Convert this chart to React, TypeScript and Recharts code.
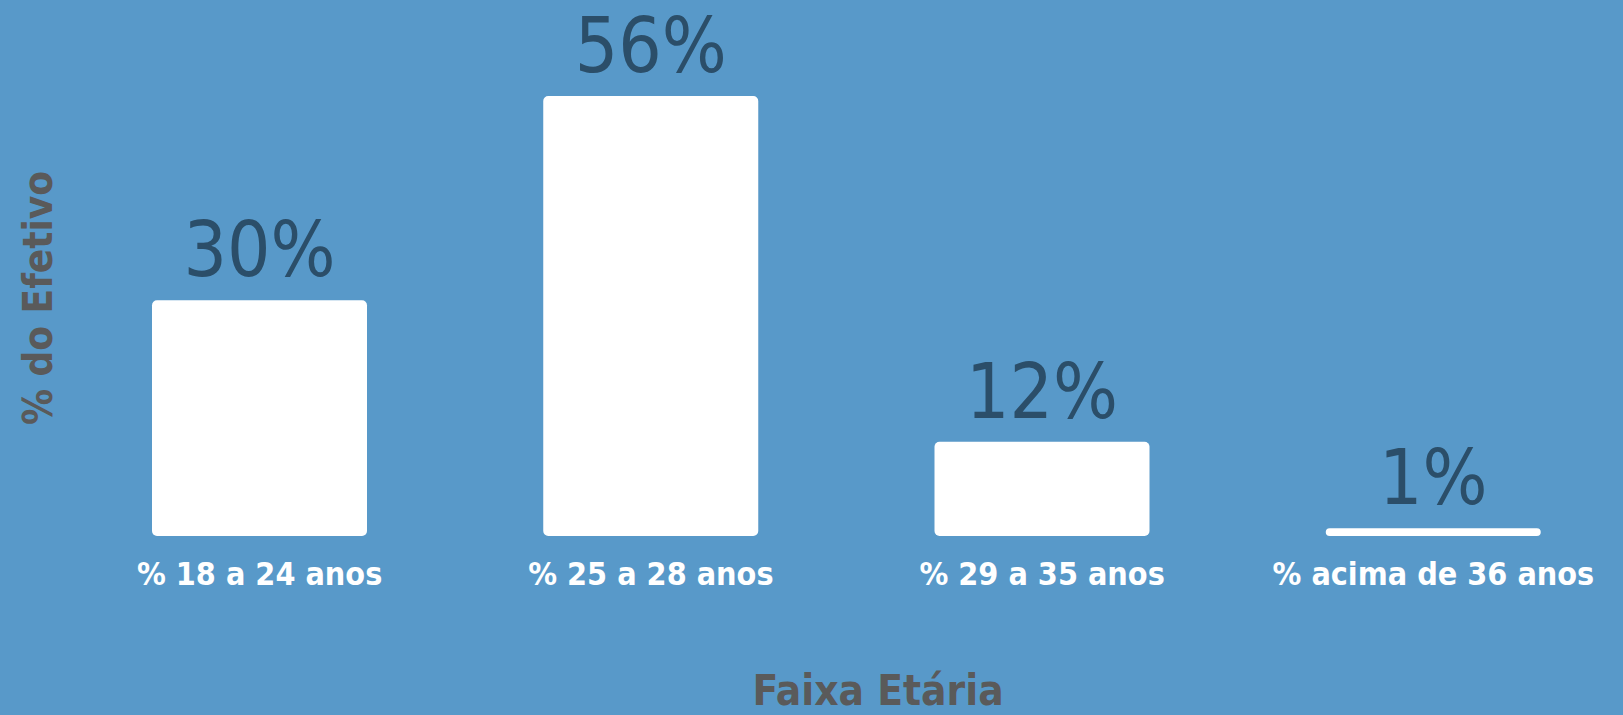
import React from "react";
import { Bar, BarChart, LabelList, XAxis, YAxis, Label } from "recharts";

const faixas = [
  "% 18 a 24 anos",
  "% 25 a 28 anos",
  "% 29 a 35 anos",
  "% acima de 36 anos",
];
const efetivo = [30, 56, 12, 1];

const BG = "#5899C9";
const VALUE_COLOR = "#2B4E69";
const TITLE_COLOR = "#5A5A5A";
const FONT = "'DejaVu Sans Condensed', 'DejaVu Sans', sans-serif";

const data = faixas.map((faixa, i) => ({ faixa, valor: efetivo[i] }));

export default function App() {
  return (
    <div
      style={{
        position: "fixed",
        top: 0,
        left: 0,
        width: 1623,
        height: 715,
        background: BG,
        fontFamily: FONT,
      }}
    >
      <BarChart
        width={1623}
        height={715}
        data={data}
        margin={{ top: 96, right: -6, bottom: 0, left: 4 }}
        barCategoryGap={0}
      >
        <XAxis
          dataKey="faixa"
          height={179}
          axisLine={false}
          tickLine={false}
          tickMargin={20}
          tick={{ fill: "#FFFFFF", fontSize: 32, fontWeight: 700, fontFamily: FONT }}
          interval={0}
        >
          <Label
            content={(props: any) => {
              const vb = props.viewBox || {};
              return (
                <text
                  x={878}
                  y={vb.y + vb.height - 10}
                  textAnchor="middle"
                  fill={TITLE_COLOR}
                  fontSize={42}
                  fontWeight={600}
                  fontFamily={FONT}
                >
                  Faixa Etária
                </text>
              );
            }}
          />
        </XAxis>
        <YAxis
          domain={[0, 56]}
          width={60}
          axisLine={false}
          tickLine={false}
          tick={false}
        >
          <Label
            content={() => (
              <text
                x={0}
                y={0}
                transform="translate(52, 298) rotate(-90)"
                textAnchor="middle"
                fill={TITLE_COLOR}
                fontSize={40}
                fontWeight={600}
                fontFamily={FONT}
              >
                % do Efetivo
              </text>
            )}
          />
        </YAxis>
        <Bar
          dataKey="valor"
          fill="#FFFFFF"
          barSize={215}
          radius={5}
          isAnimationActive={false}
        >
          <LabelList
            dataKey="valor"
            position="top"
            offset={24}
            formatter={(v: any) => `${v}%`}
            fill={VALUE_COLOR}
            fontSize={76}
            fontFamily={FONT}
          />
        </Bar>
      </BarChart>
    </div>
  );
}
